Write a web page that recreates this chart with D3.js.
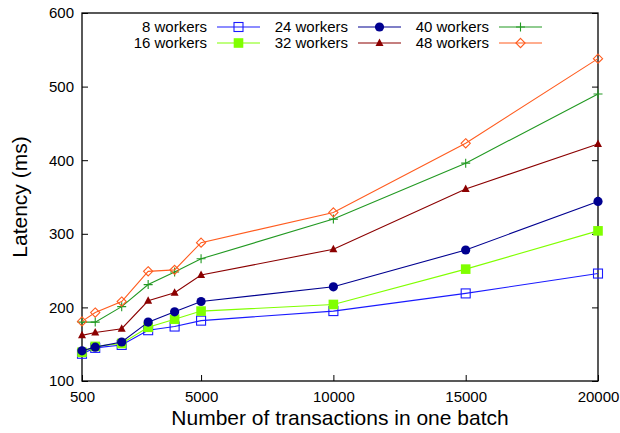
<!DOCTYPE html>
<html>
<head>
<meta charset="utf-8">
<script src="https://cdn.jsdelivr.net/npm/d3@7"></script>
<style>
  body { margin: 0; background: #fff; }
  text { font-family: "Liberation Sans", Arial, sans-serif; fill: #000; }
</style>
</head>
<body>
<script>
// batch sizes (x) and latency per worker count (ms)
var batchSizes = [500, 1000, 2000, 3000, 4000, 5000, 10000, 15000, 20000];
var xTicks = [500, 5000, 10000, 15000, 20000];
var yTicks = [100, 200, 300, 400, 500, 600];

var lat8  = [137, 145, 149, 169, 174, 182, 195, 219, 246];
var lat16 = [139, 147, 151, 173, 184, 195, 204, 252, 304];
var lat24 = [141, 146, 153, 180, 194, 208, 228, 278, 344];
var lat32 = [162, 166, 171, 209, 220, 244, 279, 361, 422];
var lat40 = [180, 180, 201, 231, 248, 266, 320, 396, 490];
var lat48 = [181, 193, 208, 249, 251, 288, 329, 423, 538];

var seriesNames = ["8 workers", "16 workers", "24 workers", "32 workers", "40 workers", "48 workers"];
var seriesData = [lat8, lat16, lat24, lat32, lat40, lat48];

// style per series: colour + marker kind
var colors = ["#1a1aff", "#80ff00", "#000090", "#8b0000", "#229922", "#ff5c1f"];
var markers = ["square-open", "square", "circle", "triangle", "plus", "diamond-open"];

var W = 620, H = 433;
var m = {left: 82, right: 22, top: 13, bottom: 52};
var pw = W - m.left - m.right, ph = H - m.top - m.bottom;

var svg = d3.select("body").append("svg").attr("width", W).attr("height", H);
var g = svg.append("g").attr("transform", "translate(" + m.left + "," + m.top + ")");

var x = d3.scaleLinear().domain([500, 20000]).range([0, pw]);
var y = d3.scaleLinear().domain([100, 600]).range([ph, 0]);

// border frame
g.append("rect").attr("width", pw).attr("height", ph)
  .attr("fill", "none").attr("stroke", "#000").attr("stroke-width", 1.3);

// axes with inward ticks
var xAxis = d3.axisBottom(x).tickValues(xTicks).tickSize(-6).tickPadding(10).tickFormat(d3.format("d"));
var yAxis = d3.axisLeft(y).tickValues(yTicks).tickSize(-6).tickPadding(8).tickFormat(d3.format("d"));
var yAxisR = d3.axisRight(y).tickValues(yTicks).tickSize(-6).tickFormat("");

var gx = g.append("g").attr("transform", "translate(0," + ph + ")").call(xAxis);
var gy = g.append("g").call(yAxis);
var gyr = g.append("g").attr("transform", "translate(" + pw + ",0)").call(yAxisR);
[gx, gy, gyr].forEach(function (a) {
  a.select(".domain").remove();
  a.selectAll(".tick line").attr("stroke", "#000");
  a.selectAll("text").style("font-size", "15px").style("font-family", "Liberation Sans, Arial, sans-serif");
});

// axis titles
svg.append("text").attr("x", m.left + pw / 2).attr("y", 425)
  .attr("text-anchor", "middle").style("font-size", "21px")
  .text("Number of transactions in one batch");
svg.append("text").attr("transform", "translate(27," + (m.top + ph / 2) + ") rotate(-90)")
  .attr("text-anchor", "middle").style("font-size", "21px")
  .text("Latency (ms)");

function drawMarker(sel, kind, color) {
  if (kind === "square-open") {
    sel.append("rect").attr("x", -4.5).attr("y", -4.5).attr("width", 9).attr("height", 9)
      .attr("fill", "none").attr("stroke", color).attr("stroke-width", 1.1);
  } else if (kind === "square") {
    sel.append("rect").attr("x", -4.8).attr("y", -4.8).attr("width", 9.6).attr("height", 9.6).attr("fill", color);
  } else if (kind === "circle") {
    sel.append("circle").attr("r", 4.6).attr("fill", color);
  } else if (kind === "triangle") {
    sel.append("path").attr("d", "M0,-4.5L4,3L-4,3Z").attr("fill", color);
  } else if (kind === "plus") {
    sel.append("path").attr("d", "M-4.5,0H4.5M0,-4.5V4.5").attr("stroke", color).attr("stroke-width", 1.1);
  } else if (kind === "diamond-open") {
    sel.append("path").attr("d", "M0,-4.6L4.6,0L0,4.6L-4.6,0Z")
      .attr("fill", "none").attr("stroke", color).attr("stroke-width", 1.1);
  }
}

var line = d3.line().x(function (d) { return x(d[0]); }).y(function (d) { return y(d[1]); });

seriesData.forEach(function (vals, i) {
  var pts = batchSizes.map(function (b, j) { return [b, vals[j]]; });
  g.append("path").datum(pts).attr("d", line)
    .attr("fill", "none").attr("stroke", colors[i]).attr("stroke-width", 1.1);
  g.selectAll(".m" + i).data(pts).enter().append("g")
    .attr("transform", function (d) { return "translate(" + x(d[0]) + "," + y(d[1]) + ")"; })
    .each(function () { drawMarker(d3.select(this), markers[i], colors[i]); });
});

// legend: 3 columns x 2 rows
var leg = svg.append("g");
seriesNames.forEach(function (name, i) {
  var col = Math.floor(i / 2), row = i % 2;
  var tx = 207 + col * 141, ty = 27 + row * 16;
  var it = leg.append("g");
  it.append("text").attr("x", tx).attr("y", ty).attr("dy", "0.35em")
    .attr("text-anchor", "end").style("font-size", "15px").text(name);
  it.append("line").attr("x1", tx + 10).attr("x2", tx + 53).attr("y1", ty).attr("y2", ty)
    .attr("stroke", colors[i]).attr("stroke-width", 1.1);
  var mk = it.append("g").attr("transform", "translate(" + (tx + 31.5) + "," + ty + ")");
  drawMarker(mk, markers[i], colors[i]);
});
</script>
</body>
</html>
